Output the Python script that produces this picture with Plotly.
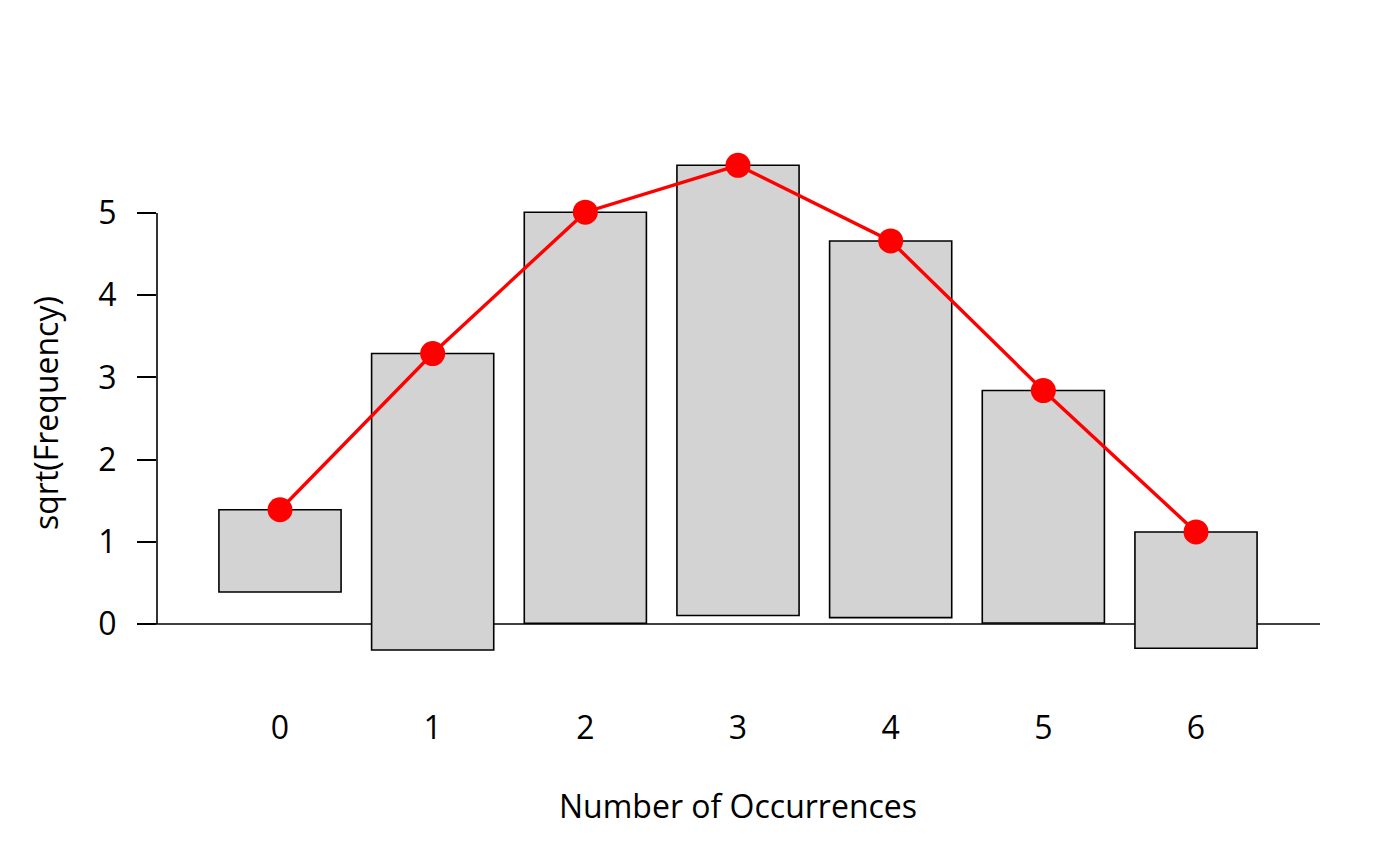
import numpy as np
import plotly.graph_objects as go

# Data (hanging rootogram)
occurrences = [0, 1, 2, 3, 4, 5, 6]
observed_freq = [1, 13, 25, 30, 21, 8, 2]
expected_sqrt = [1.39, 3.29, 5.01, 5.58, 4.66, 2.84, 1.12]
y_ticks = [0, 1, 2, 3, 4, 5]

obs_sqrt = np.sqrt(observed_freq)
bar_base = np.array(expected_sqrt) - obs_sqrt

FONT = "Open Sans"
FS = 32
OFF = 8  # page body margin

fig = go.Figure()
fig.add_trace(go.Bar(
    x=occurrences, y=obs_sqrt, base=bar_base, width=0.8,
    marker=dict(color="#D3D3D3", line=dict(color="black", width=1.6)),
    showlegend=False, hoverinfo="skip",
))
fig.add_trace(go.Scatter(
    x=occurrences, y=expected_sqrt, mode="lines+markers",
    line=dict(color="#FF0000", width=3.4),
    marker=dict(color="#FF0000", size=25),
    showlegend=False,
))

W, H = 1400 - 2 * OFF, 866 - 2 * OFF
# target page coordinates
P_LEFT, P_RIGHT, P_TOP, P_BOTTOM = 157, 1320, 100, 700
L, T = P_LEFT - OFF, P_TOP - OFF
R, B = W - (P_RIGHT - OFF), H - (P_BOTTOM - OFF)
plot_w = P_RIGHT - P_LEFT
plot_h = P_BOTTOM - P_TOP
unit_x = (1196 - 280) / 6.0
unit_y = (624 - 213) / 5.0
x_lo = (P_LEFT - 280) / unit_x
x_hi = (P_RIGHT - 280) / unit_x
y_hi = (624 - P_TOP) / unit_y
y_lo = (624 - P_BOTTOM) / unit_y

fig.update_layout(
    width=W, height=H,
    margin=dict(l=L, r=R, t=T, b=B, pad=0),
    plot_bgcolor="white", paper_bgcolor="white",
    font=dict(family=FONT, size=FS, color="black"),
    xaxis=dict(range=[x_lo, x_hi], tickvals=occurrences, ticktext=[str(v) for v in occurrences],
               showgrid=False, zeroline=False, showline=False,
               ticks="", ticklabelstandoff=6,
               tickfont=dict(size=FS)),
    yaxis=dict(range=[y_lo, y_hi], tickvals=y_ticks, ticktext=[str(v) for v in y_ticks],
               showgrid=False, zeroline=False, showline=False,
               ticks="outside", ticklen=19, tickwidth=1.6, tickcolor="black",
               ticklabelstandoff=14,
               tickfont=dict(size=FS)),
    shapes=[
        dict(type="line", xref="paper", yref="y", x0=(137 - P_LEFT) / plot_w, x1=1.0, y0=0, y1=0,
             line=dict(color="black", width=1.6), layer="below"),
        dict(type="line", xref="paper", yref="y", x0=0, x1=0, y0=min(y_ticks), y1=max(y_ticks),
             line=dict(color="black", width=1.6)),
    ],
    annotations=[
        dict(text="Number of Occurrences", xref="paper", yref="paper",
             x=(738 - P_LEFT) / plot_w, y=-(805 - P_BOTTOM) / plot_h,
             showarrow=False, xanchor="center", yanchor="middle", font=dict(size=FS)),
        dict(text="sqrt(Frequency)", xref="paper", yref="paper",
             x=-(P_LEFT - 45) / plot_w, y=(P_BOTTOM - 413) / plot_h, textangle=-90,
             showarrow=False, xanchor="center", yanchor="middle", font=dict(size=FS)),
    ],
)

fig.write_html("out.html")
